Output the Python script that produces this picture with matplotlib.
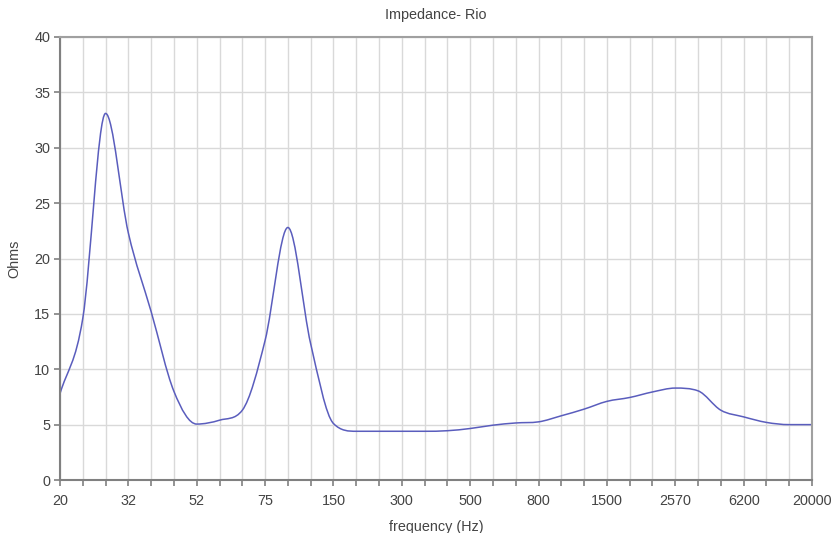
import matplotlib.pyplot as plt
import numpy as np
from matplotlib.path import Path
from matplotlib.patches import PathPatch

plt.rcParams['font.family'] = ['Liberation Sans', 'DejaVu Sans']

# frequency labels shown on the axis (every 3rd category)
freq_labels = ['20', '32', '52', '75', '150', '300', '500', '800',
               '1500', '2570', '6200', '20000']

ohms = [7.8, 14.6, 33.1, 22.3, 15.2, 8.0, 5.05, 5.4, 6.3, 12.6,
        22.8, 12.3, 5.1, 4.4, 4.4, 4.4, 4.4, 4.45, 4.65, 4.95,
        5.15, 5.25, 5.8, 6.4, 7.1, 7.45, 7.95, 8.3, 8.05, 6.3,
        5.7, 5.2, 5.0, 5.0]


def smooth_path(x, y):
    # smoothed line as cubic beziers, tangents limited so the curve
    # does not overshoot around plateaus and turning points
    x = np.asarray(x, float)
    y = np.asarray(y, float)
    n = len(y)
    d = np.diff(y)
    m = np.zeros(n)
    m[0], m[-1] = d[0], d[-1]
    for i in range(1, n - 1):
        if d[i - 1] * d[i] <= 0:
            m[i] = 0.0
        else:
            s = np.sign(d[i])
            m[i] = s * min(abs(y[i + 1] - y[i - 1]) / 2,
                           3 * abs(d[i - 1]), 3 * abs(d[i]))
    verts = [(x[0], y[0])]
    codes = [Path.MOVETO]
    for i in range(n - 1):
        h = x[i + 1] - x[i]
        verts += [(x[i] + h / 3, y[i] + m[i] / 3),
                  (x[i + 1] - h / 3, y[i + 1] - m[i + 1] / 3),
                  (x[i + 1], y[i + 1])]
        codes += [Path.CURVE4] * 3
    return Path(verts, codes)


x = np.arange(len(ohms))

fig = plt.figure(figsize=(8.37, 5.33), dpi=100)
ax = fig.add_axes([60 / 837, 1 - 480 / 533, 752 / 837, 443 / 533])

ax.add_patch(PathPatch(smooth_path(x, ohms), facecolor='none',
                       edgecolor='#5a5dbd', lw=1.1))

ax.set_xlim(0, len(ohms) - 1)
ax.set_ylim(0, 40)
ax.set_yticks(np.arange(0, 41, 5))
ax.set_xticks(x, minor=True)
ax.set_xticks(x[::3])
ax.set_xticklabels(freq_labels)

ax.grid(True, which='both', axis='x', color='#d9d9d9', lw=1)
ax.grid(True, which='major', axis='y', color='#d9d9d9', lw=1)
ax.set_axisbelow(True)

for s in ['left', 'bottom']:
    ax.spines[s].set_color('#808080')
    ax.spines[s].set_linewidth(1.5)
for s in ['top', 'right']:
    ax.spines[s].set_color('#a0a0a0')
    ax.spines[s].set_linewidth(1.5)

ax.tick_params(axis='both', which='both', direction='out', length=4,
               color='#808080', width=1.2, labelsize=10.4,
               labelcolor='#444444', pad=3)
ax.tick_params(axis='x', which='both', pad=6)

ax.set_title('Impedance- Rio', fontsize=10.4, color='#444444', pad=13)
ax.set_xlabel('frequency (Hz)', fontsize=10.4, color='#444444', labelpad=9)
ax.set_ylabel('Ohms', fontsize=10.4, color='#444444', labelpad=9)

fig.savefig('out.png', dpi=100)
